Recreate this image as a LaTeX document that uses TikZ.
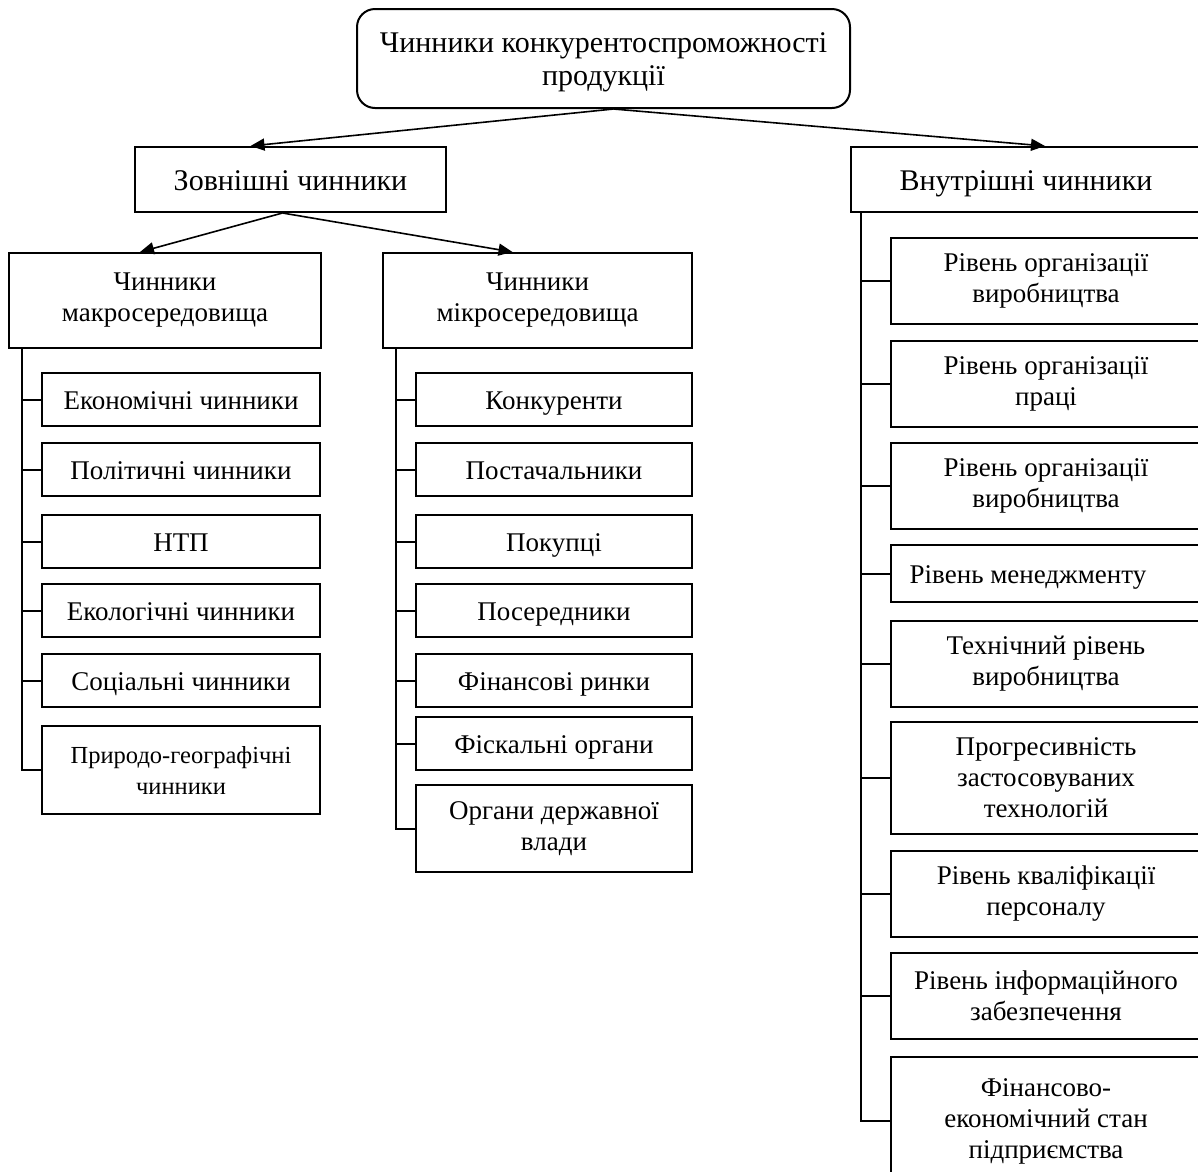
\documentclass[tikz,border=0pt]{standalone}
\usepackage{fontspec}
\setmainfont{Liberation Serif}
\usetikzlibrary{arrows.meta}

\begin{document}
\begin{tikzpicture}[x=1pt, y=-1pt, line width=2pt,
  box/.style = {draw, align=center, inner sep=0pt, font=\fontsize{27}{31}\selectfont},
  big/.style = {font=\fontsize{30}{33}\selectfont},
  one/.style = {text height=19pt, text depth=0pt},
  mbox/.style = {box, minimum width=278pt, minimum height=53pt},
  cbox/.style = {box, minimum width=276pt, minimum height=53pt},
  ibox/.style = {box, minimum width=310pt, minimum height=86pt},
  arr/.style = {-{Triangle[length=14pt, width=12pt]}, line width=1.6pt}]
  \useasboundingbox (0,0) rectangle (1198,1171);
  \clip (0,0) rectangle (1198,1171);

  \node[box, big, rounded corners=18pt, minimum width=493pt, minimum height=99pt] (top) at (603.5,58.5)
        {\rule{0pt}{27pt}Чинники конкурентоспроможності\\продукції};
  \node[box, big, one, text height=21pt, minimum width=311pt, minimum height=65pt] (ext) at (290.5,179.5) {Зовнішні чинники};
  \node[box, big, one, text height=21pt, minimum width=350pt, minimum height=65pt] (int) at (1026,179.5) {Внутрішні чинники};

  \node[box, minimum width=312pt, minimum height=95pt] (macro) at (165,300.5) {Чинники\\макросередовища};
  \node[box, minimum width=309pt, minimum height=95pt] (micro) at (537.5,300.5) {Чинники\\мікросередовища};

  % macro
  \node[mbox, one] (m1) at (181,399.5) {Економічні чинники};
  \node[mbox, one] (m2) at (181,469.5) {Політичні чинники};
  \node[mbox, one] (m3) at (181,541.5) {НТП};
  \node[mbox, one] (m4) at (181,610.5) {Екологічні чинники};
  \node[mbox, one] (m5) at (181,680.5) {Соціальні чинники};
  \node[mbox, minimum height=88pt, font=\fontsize{24.5}{31}\selectfont] (m6) at (181,770)
        {Природо-географічні\\чинники};

  % micro
  \node[cbox, one] (c1) at (554,399.5) {Конкуренти};
  \node[cbox, one] (c2) at (554,469.5) {Постачальники};
  \node[cbox, one] (c3) at (554,541.5) {Покупці};
  \node[cbox, one] (c4) at (554,610.5) {Посередники};
  \node[cbox, one] (c5) at (554,680.5) {Фінансові ринки};
  \node[cbox, one] (c6) at (554,743.5) {Фіскальні органи};
  \node[cbox, minimum height=87pt] (c7) at (554,828.5) {Органи державної\\влади};

  % internal
  \node[ibox] (i1) at (1046,281) {Рівень організації\\виробництва};
  \node[ibox] (i2) at (1046,383.5) {Рівень організації\\праці};
  \node[ibox] (i3) at (1046,486) {Рівень організації\\виробництва};
  \node[ibox, one, minimum height=57pt] (i4) at (1046,573.5) {\hspace*{-36pt}Рівень менеджменту};
  \node[ibox] (i5) at (1046,663.5) {Технічний рівень\\виробництва};
  \node[ibox, minimum height=112pt] (i6) at (1046,778) {Прогресивність\\застосовуваних\\технологій};
  \node[ibox] (i7) at (1046,894) {Рівень кваліфікації\\персоналу};
  \node[ibox] (i8) at (1046,996) {Рівень інформаційного\\забезпечення};
  \node[ibox, minimum height=128pt] (i9) at (1046,1121) {Фінансово-\\економічний стан\\підприємства};

  \draw[arr] ([xshift=10pt]top.south) -- ([xshift=-40pt]ext.north);
  \draw[arr] ([xshift=10pt]top.south) -- ([xshift=19pt]int.north);
  \draw[arr] ([xshift=-8pt]ext.south) -- ([xshift=-25pt]macro.north);
  \draw[arr] ([xshift=-8pt]ext.south) -- ([xshift=-25pt]micro.north);

  \coordinate (mt) at ([xshift=14pt]macro.south west);
  \coordinate (ct) at ([xshift=14pt]micro.south west);
  \coordinate (it) at ([xshift=11pt]int.south west);

  \draw (mt) |- (m6.west);
  \foreach \n in {1,...,5}
    \draw (mt |- m\n.west) -- (m\n.west);
  \draw (ct) |- (c7.west);
  \foreach \n in {1,...,6}
    \draw (ct |- c\n.west) -- (c\n.west);
  \draw (it) |- (i9.west);
  \foreach \n in {1,...,8}
    \draw (it |- i\n.west) -- (i\n.west);
\end{tikzpicture}
\end{document}
